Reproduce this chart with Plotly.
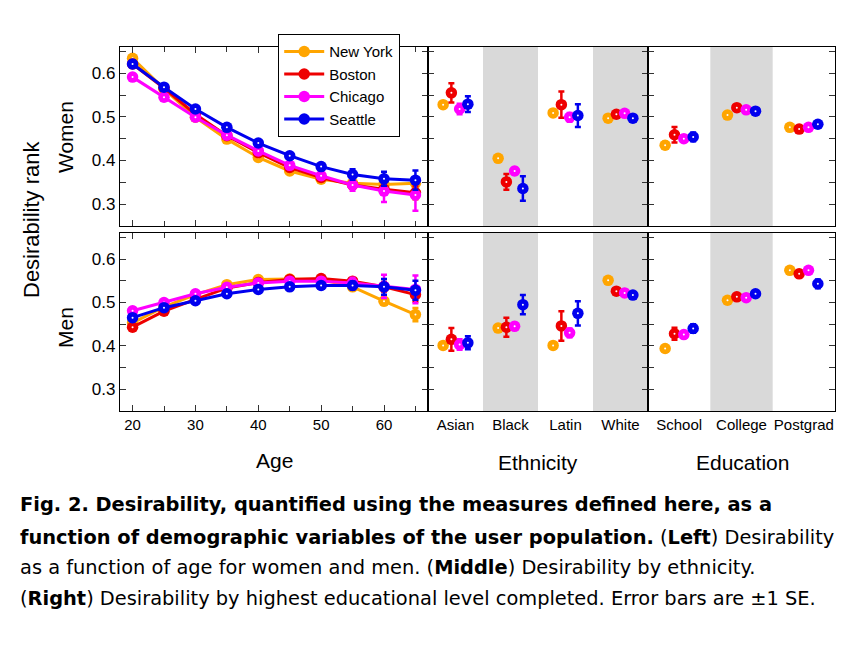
import plotly.graph_objects as go

# ---------------- data ----------------
ages = [20, 25, 30, 35, 40, 45, 50, 55, 60, 65]
ethnicities = ["Asian", "Black", "Latin", "White"]
educations = ["School", "College", "Postgrad"]
cities = ["New York", "Boston", "Chicago", "Seattle"]
city_colors = ["#FFA500", "#EE0000", "#FF00FF", "#0000EE"]

# Women, by age
women_age_ny = [0.634, 0.564, 0.499, 0.449, 0.407, 0.376, 0.357, 0.348, 0.345, 0.348]
women_age_bos = [0.621, 0.566, 0.506, 0.457, 0.418, 0.384, 0.361, 0.344, 0.334, 0.326]
women_age_chi = [0.591, 0.545, 0.499, 0.458, 0.422, 0.389, 0.365, 0.344, 0.330, 0.321]
women_age_sea = [0.621, 0.568, 0.518, 0.476, 0.440, 0.411, 0.386, 0.368, 0.358, 0.355]
women_age_err_ny = [0.006, 0.004, 0.004, 0.004, 0.004, 0.004, 0.005, 0.006, 0.008, 0.010]
women_age_err_bos = [0.006, 0.004, 0.004, 0.004, 0.004, 0.005, 0.006, 0.008, 0.012, 0.015]
women_age_err_chi = [0.008, 0.005, 0.004, 0.004, 0.004, 0.005, 0.007, 0.013, 0.025, 0.036]
women_age_err_sea = [0.008, 0.005, 0.004, 0.004, 0.005, 0.006, 0.008, 0.012, 0.016, 0.022]

# Men, by age
men_age_ny = [0.453, 0.490, 0.518, 0.541, 0.553, 0.554, 0.553, 0.536, 0.503, 0.472]
men_age_bos = [0.443, 0.480, 0.507, 0.533, 0.546, 0.553, 0.555, 0.549, 0.536, 0.518]
men_age_chi = [0.481, 0.500, 0.520, 0.535, 0.545, 0.549, 0.549, 0.545, 0.537, 0.530]
men_age_sea = [0.465, 0.488, 0.504, 0.520, 0.530, 0.536, 0.539, 0.539, 0.536, 0.528]
men_age_err_ny = [0.005, 0.004, 0.004, 0.004, 0.004, 0.004, 0.004, 0.006, 0.009, 0.015]
men_age_err_bos = [0.006, 0.004, 0.004, 0.004, 0.004, 0.004, 0.005, 0.007, 0.011, 0.016]
men_age_err_chi = [0.008, 0.005, 0.004, 0.004, 0.004, 0.005, 0.007, 0.012, 0.027, 0.032]
men_age_err_sea = [0.008, 0.005, 0.004, 0.004, 0.004, 0.005, 0.006, 0.009, 0.018, 0.022]

# Women, by ethnicity (Asian, Black, Latin, White)
women_eth_ny = [0.528, 0.405, 0.509, 0.497]
women_eth_bos = [0.555, 0.351, 0.528, 0.506]
women_eth_chi = [0.518, 0.376, 0.499, 0.508]
women_eth_sea = [0.529, 0.336, 0.503, 0.497]
women_eth_err_ny = [0.004, 0.004, 0.004, 0.003]
women_eth_err_bos = [0.022, 0.018, 0.030, 0.004]
women_eth_err_chi = [0.012, 0.008, 0.010, 0.003]
women_eth_err_sea = [0.018, 0.028, 0.026, 0.004]

# Men, by ethnicity
men_eth_ny = [0.401, 0.441, 0.401, 0.551]
men_eth_bos = [0.415, 0.443, 0.446, 0.526]
men_eth_chi = [0.403, 0.445, 0.430, 0.522]
men_eth_sea = [0.407, 0.495, 0.475, 0.517]
men_eth_err_ny = [0.004, 0.004, 0.004, 0.003]
men_eth_err_bos = [0.026, 0.022, 0.034, 0.004]
men_eth_err_chi = [0.012, 0.008, 0.010, 0.003]
men_eth_err_sea = [0.015, 0.022, 0.028, 0.004]

# Women, by education (School, College, Postgrad)
women_edu_ny = [0.435, 0.504, 0.476]
women_edu_bos = [0.459, 0.521, 0.472]
women_edu_chi = [0.450, 0.516, 0.476]
women_edu_sea = [0.454, 0.513, 0.483]
women_edu_err_ny = [0.008, 0.003, 0.003]
women_edu_err_bos = [0.018, 0.004, 0.006]
women_edu_err_chi = [0.004, 0.003, 0.003]
women_edu_err_sea = [0.010, 0.004, 0.006]

# Men, by education
men_edu_ny = [0.394, 0.505, 0.574]
men_edu_bos = [0.428, 0.513, 0.566]
men_edu_chi = [0.426, 0.511, 0.574]
men_edu_sea = [0.440, 0.520, 0.543]
men_edu_err_ny = [0.006, 0.003, 0.003]
men_edu_err_bos = [0.014, 0.004, 0.008]
men_edu_err_chi = [0.005, 0.003, 0.003]
men_edu_err_sea = [0.010, 0.004, 0.010]

# ---------------- figure ----------------
W, H = 860, 645
def px(p):
    return p / W
def py(p):
    return 1 - p / H

FONT = "Liberation Sans, Arial, Helvetica, sans-serif"
CAP_FONT = "DejaVu Sans, sans-serif"
offsets = [-0.225, -0.075, 0.075, 0.225]

women_age = [women_age_ny, women_age_bos, women_age_chi, women_age_sea]
women_age_err = [women_age_err_ny, women_age_err_bos, women_age_err_chi, women_age_err_sea]
men_age = [men_age_ny, men_age_bos, men_age_chi, men_age_sea]
men_age_err = [men_age_err_ny, men_age_err_bos, men_age_err_chi, men_age_err_sea]
women_eth = [women_eth_ny, women_eth_bos, women_eth_chi, women_eth_sea]
women_eth_err = [women_eth_err_ny, women_eth_err_bos, women_eth_err_chi, women_eth_err_sea]
men_eth = [men_eth_ny, men_eth_bos, men_eth_chi, men_eth_sea]
men_eth_err = [men_eth_err_ny, men_eth_err_bos, men_eth_err_chi, men_eth_err_sea]
women_edu = [women_edu_ny, women_edu_bos, women_edu_chi, women_edu_sea]
women_edu_err = [women_edu_err_ny, women_edu_err_bos, women_edu_err_chi, women_edu_err_sea]
men_edu = [men_edu_ny, men_edu_bos, men_edu_chi, men_edu_sea]
men_edu_err = [men_edu_err_ny, men_edu_err_bos, men_edu_err_chi, men_edu_err_sea]

fig = go.Figure()

def add_series(x, y, err, color, name, xa, ya, lines, legend):
    fig.add_trace(go.Scatter(
        x=x, y=y, mode="lines+markers" if lines else "markers",
        name=name, showlegend=legend,
        line=dict(color=color, width=3),
        marker=dict(color=color, size=11.5, line=dict(width=0)),
        error_y=dict(type="data", array=err, color=color, thickness=2.5, width=3),
        xaxis=xa, yaxis=ya, hoverinfo="skip",
    ))
    fig.add_trace(go.Scatter(
        x=x, y=y, mode="markers", showlegend=False,
        marker=dict(color="white", size=2, line=dict(width=0)),
        xaxis=xa, yaxis=ya, hoverinfo="skip",
    ))

for i, city in enumerate(cities):
    c = city_colors[i]
    add_series(ages, women_age[i], women_age_err[i], c, city, "x", "y", True, True)
    add_series(ages, men_age[i], men_age_err[i], c, city, "x2", "y2", True, False)
    xe = [k + offsets[i] for k in range(len(ethnicities))]
    add_series(xe, women_eth[i], women_eth_err[i], c, city, "x3", "y3", False, False)
    add_series(xe, men_eth[i], men_eth_err[i], c, city, "x4", "y4", False, False)
    xd = [k + offsets[i] for k in range(len(educations))]
    add_series(xd, women_edu[i], women_edu_err[i], c, city, "x5", "y5", False, False)
    add_series(xd, men_edu[i], men_edu_err[i], c, city, "x6", "y6", False, False)

# shaded category bands
shapes = []
for xa, ya, idxs in [("x3", "y3", [1, 3]), ("x4", "y4", [1, 3]),
                     ("x5", "y5", [1]), ("x6", "y6", [1])]:
    for k in idxs:
        shapes.append(dict(type="rect", xref=xa, yref=ya + " domain",
                           x0=k - 0.5, x1=k + 0.5, y0=0, y1=1,
                           fillcolor="#D9D9D9", line=dict(width=0), layer="below"))

xl = [px(120), px(428)]
xm = [px(428), px(648)]
xr = [px(648), px(835)]
yt = [py(226), py(47)]
yb = [py(411), py(233)]

TICKC = "#333333"
LW = 1.3
def yaxis(domain, anchor, labels):
    return dict(domain=domain, anchor=anchor, range=[0.25, 0.66],
                showline=True, linecolor="black", linewidth=LW, mirror="ticks",
                ticks="inside", ticklen=6, tickwidth=1.2, tickcolor=TICKC,
                tick0=0.3, dtick=0.1, tickformat=".1f",
                minor=dict(tick0=0.25, dtick=0.1, ticks="inside", ticklen=6,
                           tickwidth=1.2, tickcolor=TICKC, showgrid=False),
                showticklabels=labels, tickfont=dict(family=FONT, size=17, color="black"),
                showgrid=False, zeroline=False, fixedrange=True)

def xage(domain, anchor, labels):
    return dict(domain=domain, anchor=anchor, range=[18, 67],
                showline=True, linecolor="black", linewidth=LW, mirror="ticks",
                ticks="inside", ticklen=6, tickwidth=1.2, tickcolor=TICKC,
                tick0=0, dtick=10,
                minor=dict(tick0=25, dtick=10, ticks="inside", ticklen=5,
                           tickwidth=1.2, tickcolor=TICKC, showgrid=False),
                showticklabels=labels, tickfont=dict(family=FONT, size=15, color="black"),
                showgrid=False, zeroline=False, fixedrange=True)

def xcat(domain, anchor, cats, labels):
    return dict(domain=domain, anchor=anchor, range=[-0.5, len(cats) - 0.5],
                showline=True, linecolor="black", linewidth=LW, mirror=True,
                ticks="", tickvals=list(range(len(cats))), ticktext=cats,
                showticklabels=labels, tickfont=dict(family=FONT, size=15, color="black"),
                showgrid=False, zeroline=False, fixedrange=True)

fig.update_layout(
    width=W, height=H, margin=dict(l=0, r=0, t=0, b=0),
    paper_bgcolor="white", plot_bgcolor="white",
    font=dict(family=FONT, color="black"),
    showlegend=True,
    legend=dict(x=px(278), y=py(34), xanchor="left", yanchor="top",
                bgcolor="white", bordercolor="black", borderwidth=1.2,
                font=dict(family=FONT, size=15, color="black"),
                tracegroupgap=0, itemwidth=40, traceorder="normal"),
    shapes=shapes,
    xaxis=xage(xl, "y", False), yaxis=yaxis(yt, "x", True),
    xaxis2=xage(xl, "y2", True), yaxis2=yaxis(yb, "x2", True),
    xaxis3=xcat(xm, "y3", ethnicities, False), yaxis3=yaxis(yt, "x3", False),
    xaxis4=xcat(xm, "y4", ethnicities, True), yaxis4=yaxis(yb, "x4", False),
    xaxis5=xcat(xr, "y5", educations, False), yaxis5=yaxis(yt, "x5", False),
    xaxis6=xcat(xr, "y6", educations, True), yaxis6=yaxis(yb, "x6", False),
)

ann = []
def text(x, y, s, size, angle=0, xanchor="center", family=FONT):
    ann.append(dict(x=x, y=y, xref="paper", yref="paper", text=s, showarrow=False,
                    xanchor=xanchor, yanchor="middle", textangle=angle,
                    font=dict(family=family, size=size, color="black")))

text(px(274), py(460), "Age", 21)
text(px(538), py(462), "Ethnicity", 21)
text(px(742), py(462), "Education", 21)
text(px(32), py(220), "Desirability rank", 22, angle=-90)
text(px(65), py(137), "Women", 21, angle=-90)
text(px(65), py(328), "Men", 21, angle=-90)

cap_lines = [
    "<b>Fig. 2. Desirability, quantified using the measures defined here, as a</b>",
    "<b>function of demographic variables of the user population.</b> (<b>Left</b>) Desirability",
    "as a function of age for women and men. (<b>Middle</b>) Desirability by ethnicity.",
    "(<b>Right</b>) Desirability by highest educational level completed. Error bars are ±1 SE.",
]
cap_y = [505, 537, 567, 598]
for s, yy in zip(cap_lines, cap_y):
    text(px(18), py(yy), s, 19.4, xanchor="left", family=CAP_FONT)

fig.update_layout(annotations=ann)
fig.write_html("out.html", config={"displayModeBar": False},
               post_script="document.body.style.margin='0';document.body.style.overflow='hidden';")
